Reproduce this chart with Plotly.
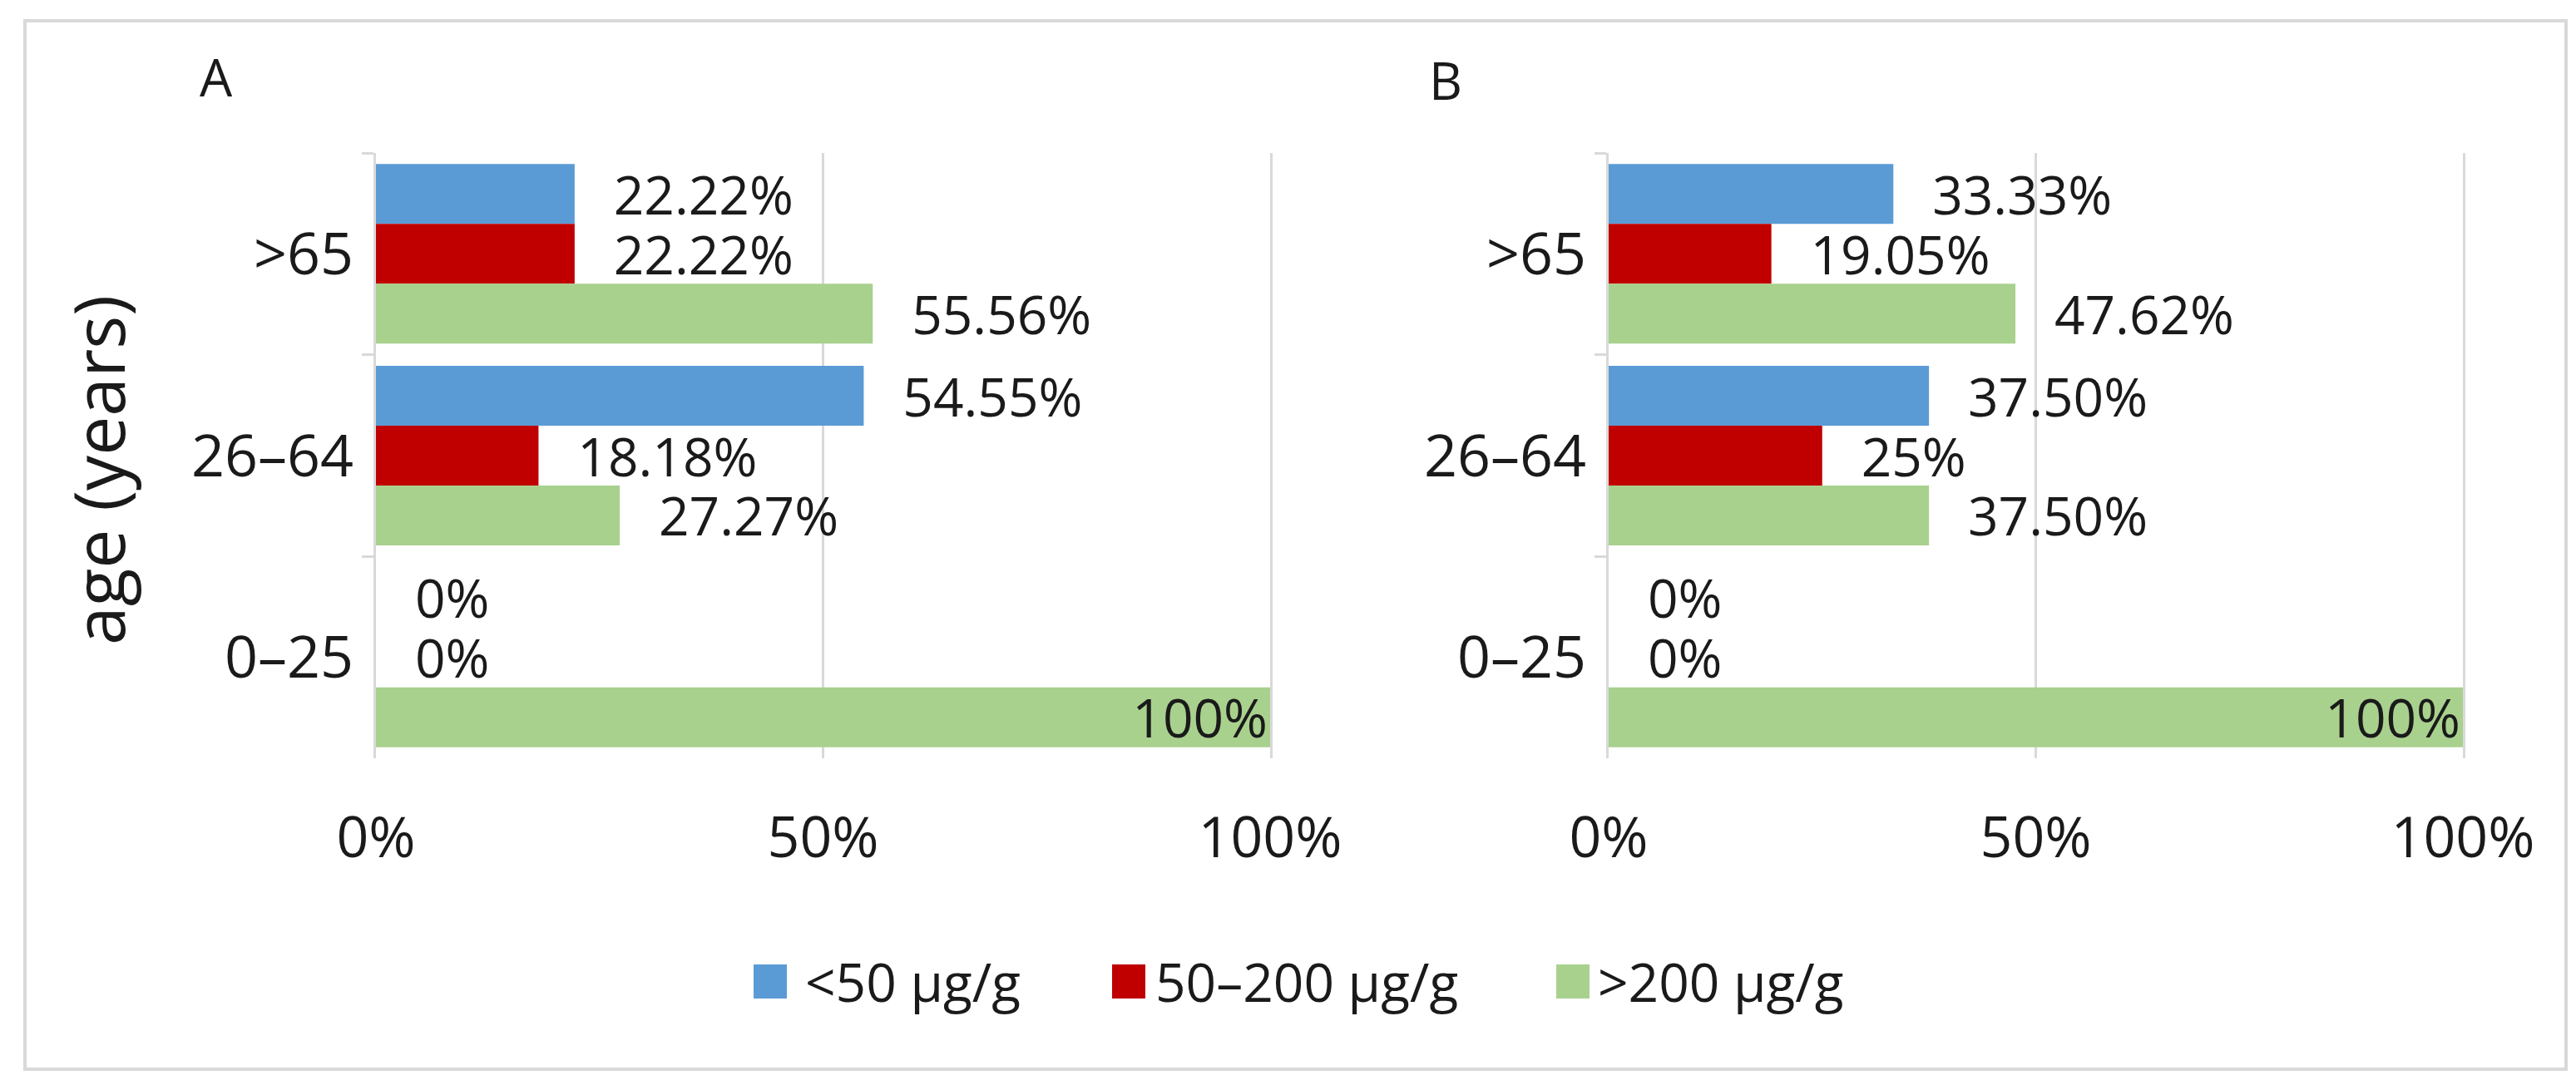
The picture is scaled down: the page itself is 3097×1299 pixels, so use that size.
import plotly.graph_objects as go

# ---------------- data ----------------
age_groups = [">65", "26–64", "0–25"]
series_names = ["<50 µg/g", "50–200 µg/g", ">200 µg/g"]
series_colors = ["#5B9BD5", "#C00000", "#A9D18E"]

panel_a_low = [22.22, 54.55, 0]
panel_a_mid = [22.22, 18.18, 0]
panel_a_high = [55.56, 27.27, 100]

panel_b_low = [33.33, 37.50, 0]
panel_b_mid = [19.05, 25, 0]
panel_b_high = [47.62, 37.50, 100]

x_tick_vals = [0, 50, 100]
x_tick_text = ["0%", "50%", "100%"]
panel_titles = ["A", "B"]
y_title = "age (years)"

FONT = "Open Sans"
W, H = 3097, 1299


def fmt(v):
    if float(v).is_integer():
        return f"{int(v)}%"
    return f"{v:.2f}%"


def labels(vals):
    txt, pos = [], []
    for v in vals:
        if v >= 100:
            txt.append(fmt(v))
            pos.append("inside")
        else:
            txt.append("\u00a0\u00a0\u2009" + fmt(v))
            pos.append("outside")
    return txt, pos


fig = go.Figure()

panels = [
    ("x", "y", [panel_a_low, panel_a_mid, panel_a_high]),
    ("x2", "y2", [panel_b_low, panel_b_mid, panel_b_high]),
]
for xa, ya, series in panels:
    for name, color, vals in zip(series_names, series_colors, series):
        txt, pos = labels(vals)
        fig.add_trace(go.Bar(
            x=vals, y=age_groups, orientation="h", name=name,
            marker=dict(color=color, line=dict(width=0)),
            text=txt, textposition=pos, insidetextanchor="end",
            textfont=dict(family=FONT, size=64, color="#1a1a1a"),
            insidetextfont=dict(family=FONT, size=64, color="#1a1a1a"),
            outsidetextfont=dict(family=FONT, size=64, color="#1a1a1a"),
            constraintext="none", cliponaxis=False,
            xaxis=xa, yaxis=ya, showlegend=False, hoverinfo="skip",
        ))

ydom = [1 - 904 / H, 1 - 176 / H]
xdomA = [444 / W, 1519 / W]
xdomB = [1926 / W, 2953 / W]

xaxis_common = dict(
    range=[0, 100], tickvals=x_tick_vals, ticktext=x_tick_text,
    showgrid=True, gridcolor="#D9D9D9", gridwidth=3, zeroline=False,
    showline=False, ticks="", ticklabelstandoff=50, automargin=False,
    tickfont=dict(family=FONT, size=68, color="#1a1a1a"), fixedrange=True,
)
yaxis_common = dict(
    autorange="reversed", type="category", showgrid=False, zeroline=False,
    showline=True, linecolor="#D9D9D9", linewidth=3, mirror=True,
    ticks="outside", tickson="boundaries", ticklen=14, tickwidth=3,
    tickcolor="#D9D9D9", ticklabelstandoff=10, automargin=False,
    tickfont=dict(family=FONT, size=70, color="#1a1a1a"), fixedrange=True,
)

fig.update_layout(
    width=W, height=H, autosize=False,
    margin=dict(l=0, r=0, t=0, b=0, pad=0, autoexpand=False),
    paper_bgcolor="white", plot_bgcolor="white",
    barmode="group", bargap=0.11, bargroupgap=0,
    font=dict(family=FONT, color="#1a1a1a"),
    xaxis=dict(domain=xdomA, anchor="y", **xaxis_common),
    xaxis2=dict(domain=xdomB, anchor="y2", **xaxis_common),
    yaxis=dict(domain=ydom, anchor="x", **yaxis_common),
    yaxis2=dict(domain=ydom, anchor="x2", **yaxis_common),
    showlegend=False,
)

# outer border
fig.add_shape(type="rect", xref="paper", yref="paper",
              x0=22 / W, x1=3077 / W, y0=1 - 1278 / H, y1=1 - 17 / H,
              line=dict(color="#D9D9D9", width=4), fillcolor="rgba(0,0,0,0)",
              layer="below")

# panel letters
for t, px, py in zip(panel_titles, [252, 1730], [84, 88]):
    fig.add_annotation(text=t, x=px / W, y=1 - py / H, xref="paper", yref="paper",
                       showarrow=False, xanchor="center", yanchor="middle",
                       font=dict(family=FONT, size=62, color="#1a1a1a"))

# y axis title
fig.add_annotation(text=y_title, x=110 / W, y=1 - 558 / H, xref="paper", yref="paper",
                   showarrow=False, textangle=-90, xanchor="center", yanchor="middle",
                   font=dict(family=FONT, size=84, color="#1a1a1a"))

# manual legend
legend_swatch_x = [898, 1329, 1863]
legend_text_x = [958, 1379, 1911]
leg_y0, leg_y1, leg_text_y = 1152, 1193, 1172
for name, color, sx, tx in zip(series_names, series_colors, legend_swatch_x, legend_text_x):
    fig.add_shape(type="rect", xref="paper", yref="paper",
                  x0=sx / W, x1=(sx + 40) / W, y0=1 - leg_y1 / H, y1=1 - leg_y0 / H,
                  line=dict(width=0), fillcolor=color)
    fig.add_annotation(text=name, x=tx / W, y=1 - leg_text_y / H, xref="paper", yref="paper",
                       showarrow=False, xanchor="left", yanchor="middle",
                       font=dict(family=FONT, size=64, color="#1a1a1a"))

fig.write_html("out.html")
